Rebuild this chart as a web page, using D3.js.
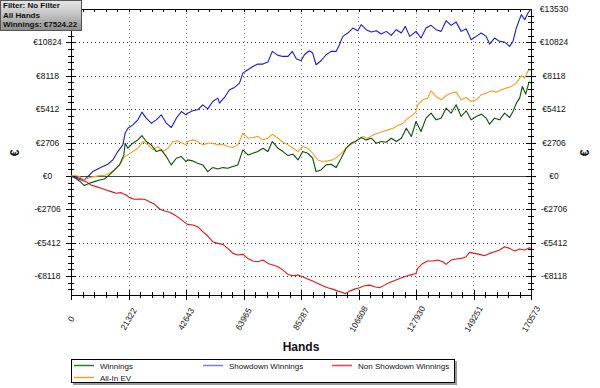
<!DOCTYPE html>
<html><head><meta charset="utf-8">
<script src="https://cdn.jsdelivr.net/npm/d3@7"></script>
<style>body{margin:0;background:#fff}svg{display:block}text{font-family:"Liberation Sans",Arial,sans-serif}</style>
</head><body><svg id="c" width="600" height="388"></svg>
<script>
const xTicks = [0,21322,42643,63965,85287,106608,127930,149251,170573];
const yTicks = [-8118,-5412,-2706,0,2706,5412,8118,10824,13530];
const seriesNames = ["Winnings","All-In EV","Showdown Winnings","Non Showdown Winnings"];
const filterLines = ["Filter: No Filter","All Hands","Winnings: €7524.22"];

const winningsHands = [0,1240,3100,4960,6820,8680,10540,12400,14260,16120,17980,19590,20090,21080,22940,24800,26290,27900,29760,31620,33480,35340,37200,39060,40920,42660,43263,45123,46983,48843,50703,52563,54423,56283,58143,60003,61863,63723,65583,67443,69303,71163,73023,74635,76743,78603,80463,82323,84183,85907,87767,89627,90867,92727,94587,96447,98307,100167,102027,103887,105747,107607,109467,111327,113187,115047,116907,118767,120627,122487,124347,126207,127930,129790,131650,133510,135370,137230,139090,140950,142810,144670,146530,148390,150250,152110,153970,155210,157070,158930,160790,162650,163890,165130,166370,167362,168602,169842,170573];
const winningsValues = [0,-135,-406,-785,-595,-460,-325,-244,81,487,893,1705,2652,2246,2652,2922,3274,2787,2517,1975,2111,1569,893,1434,1569,1164,1299,1218,1028,893,352,677,568,677,622,758,893,2111,1705,1840,1975,2246,1975,2787,2246,1975,1651,1759,1299,1975,1840,1434,352,487,893,947,677,1434,2246,2652,2841,3112,2922,3058,2652,2787,2733,3058,2787,3058,3870,3193,4411,3599,4681,5087,4546,4681,5493,5087,5764,4817,5277,4546,4817,5006,4681,4194,4681,4546,5087,4736,5223,5899,6305,7252,6630,7604,7524];

const allInHands = [0,1240,3100,4960,6820,8680,10540,12400,14260,16120,17980,19840,21080,22940,24800,26660,28520,30380,32240,34100,35960,37820,39680,42660,43263,45123,46983,48843,50703,52563,54423,56283,58143,60003,61863,63723,65583,67443,69303,71163,73023,74635,76743,78603,80463,82323,84183,85907,87767,89627,91487,93347,95207,97067,98927,100787,102647,104507,106367,108227,110087,111947,113807,115667,117527,119387,121247,123107,124967,126827,127930,128550,130410,132270,133510,135370,137230,139090,140950,142810,144670,146530,148390,150250,152110,153970,155830,157690,159550,161410,163270,165130,166990,168230,169470,170573];
const allInValues = [0,81,-54,-325,-135,-54,27,27,216,487,893,1569,1705,1975,2246,2787,2517,2111,2381,1975,2246,2787,2841,2517,2787,2922,2787,2517,2652,2652,2517,2571,2381,2300,2517,3464,3058,3112,3193,2922,3058,3383,3058,2733,2517,2246,1975,2381,2246,1840,1299,1164,1218,1299,1569,1975,2381,2652,2922,3193,3058,3328,3464,3599,3734,3870,4086,4275,4681,4952,5223,5764,6170,6305,6900,6440,6170,6521,6711,6792,6170,6359,6034,6170,6576,6711,6900,6792,6981,7117,7252,7523,8145,7929,8524,8605];

const showdownHands = [0,1240,3100,4960,6200,8060,9920,11780,13640,15500,17360,19220,20090,21080,22940,24800,26290,27900,29760,31620,33480,35340,37200,39060,40920,42660,43263,45123,46983,48843,50703,52563,54423,55043,56903,58763,60623,62483,63723,65583,67443,69303,71163,73023,74635,76743,78603,80463,82075,83563,85299,86527,88387,89627,90867,92727,94587,96447,98307,99547,100787,102647,104507,106367,107607,109467,111327,113187,115047,116907,118767,120627,122487,123975,125587,127943,129790,131650,133510,135370,137230,139090,140950,142810,144670,146530,148390,150250,152110,153970,155210,157070,158930,160790,162650,163890,165130,166990,168230,169470,170573];
const showdownValues = [0,-54,-189,-325,-54,352,568,758,947,1299,1975,2517,3464,3870,4140,4546,5168,4681,4275,4546,4952,4275,3924,4681,5223,4952,5087,5277,5358,5764,5439,6034,6305,5899,6359,6981,7171,7523,8334,8605,8876,9065,9065,9227,10093,9769,9687,9687,10093,9498,9336,9823,10148,9958,9011,9336,9823,10093,10093,10635,11311,11582,11988,11771,12258,11852,11663,11771,11501,11717,11392,11852,11582,12123,11311,11717,11176,11988,12204,11852,11717,12583,12204,12475,11717,11933,11040,11311,11582,11311,10689,11176,10905,10851,10499,10905,11988,13070,12664,13205,13530];

const nonShowdownHands = [0,1860,3720,5580,7440,9300,11160,13020,14880,16740,18600,20460,21700,23560,25420,27280,29140,31000,32860,34720,36580,38440,40300,42660,43263,45123,46983,48843,50703,52563,54423,56283,58143,60003,61863,63723,65583,67443,69303,71163,73023,74883,76743,78603,80463,82323,84183,85907,87767,89627,91487,93347,95207,97067,98927,100787,101655,103267,105127,106987,108847,110707,112567,114427,116287,118147,120007,121867,123727,125587,127943,128550,130410,132270,134130,135990,137850,139090,140950,142810,144670,146530,147770,149630,151490,153350,155210,157070,158930,160790,162650,164510,166370,168230,170090,170573];
const nonShowdownValues = [0,-189,-325,-460,-731,-866,-1001,-1137,-1272,-1407,-1353,-1542,-1759,-1894,-1867,-1894,-2084,-2300,-2679,-2841,-2950,-3166,-3437,-3843,-3924,-3978,-4113,-4519,-4871,-5331,-5466,-5547,-5872,-6278,-6413,-6359,-6684,-6900,-6954,-6819,-7090,-7225,-7360,-7631,-7983,-8091,-8037,-8172,-8362,-8524,-8713,-8903,-9065,-9173,-9336,-9444,-9552,-9336,-9173,-9065,-8903,-8849,-8984,-9065,-8849,-8632,-8470,-8307,-8172,-8037,-7902,-7496,-7090,-6900,-6900,-6819,-6954,-7171,-6819,-6738,-6684,-6549,-6197,-6278,-6359,-6467,-6278,-6143,-6007,-5737,-5872,-6088,-5926,-6007,-5818,-5872];

const colors = {w:"#0b4f0b", ev:"#f2a01e", sd:"#1a1ad8", nsd:"#e01515"};
const legendColors = {w:"#2e7d2e", ev:"#f0a030", sd:"#7a7aff", nsd:"#ff3a3a"};

const svg = d3.select("#c");
svg.append("rect").attr("width",600).attr("height",388).attr("fill","#fff");
const L=71,R=531,T=9,B=295;
const x = d3.scaleLinear().domain([0,170573]).range([L,R]);
const y = d3.scaleLinear().domain([-9650,13530]).range([B,T]);

// grid
const g = svg.append("g");
yTicks.filter(v=>v!==0 && v!==13530).forEach(v=>{
  g.append("line").attr("x1",L).attr("x2",R).attr("y1",Math.round(y(v))+0.5).attr("y2",Math.round(y(v))+0.5)
   .attr("stroke","#333").attr("stroke-dasharray","1,3");
});
xTicks.filter(v=>v!==0 && v!==170573).forEach(v=>{
  g.append("line").attr("y1",T).attr("y2",B).attr("x1",Math.round(x(v))+0.5).attr("x2",Math.round(x(v))+0.5)
   .attr("stroke","#888").attr("stroke-dasharray","1,3");
});
g.append("line").attr("x1",L).attr("x2",R).attr("y1",Math.round(y(0))+0.5).attr("y2",Math.round(y(0))+0.5).attr("stroke","#444");

// frame lines
const fr = svg.append("g").attr("stroke","#000").attr("shape-rendering","crispEdges");
fr.append("line").attr("x1",L).attr("x2",R).attr("y1",T).attr("y2",T);
fr.append("line").attr("x1",L).attr("x2",R).attr("y1",B).attr("y2",B);
fr.append("line").attr("x1",L).attr("x2",L).attr("y1",T).attr("y2",B);
fr.append("line").attr("x1",R).attr("x2",R).attr("y1",T).attr("y2",B);

// y ticks (major + minor), crossing axis lines
const ySub = 5, step = 2706;
for(let v=-8118 - step; v<=13530; v+=step/ySub){
  const vv = Math.round(v);
  if (y(vv) > B || y(vv) < T-0.5) continue;
  const major = yTicks.some(t=>Math.abs(t-vv)<2);
  const len = major?5:3;
  const yy = Math.round(y(vv))+0.5;
  [L,R].forEach(ax=>{
    fr.append("line").attr("x1",ax-len).attr("x2",ax+len).attr("y1",yy).attr("y2",yy);
  });
}
// x ticks
const xStep = 21322, xSub = 5;
for(let i=0;i<=8*xSub;i++){
  const v = i*xStep/xSub;
  const major = i % xSub === 0;
  const xx = Math.round(x(v))+0.5;
  const len = major?5:3;
  fr.append("line").attr("x1",xx).attr("x2",xx).attr("y1",B-len).attr("y2",B+len);
  fr.append("line").attr("x1",xx).attr("x2",xx).attr("y1",T).attr("y2",T+3);
}

// y labels (left top label hidden behind filter box in the reference)
const fmt = v => (v<0?"-€":"€")+Math.abs(v);
yTicks.forEach(v=>{
  if (v !== 13530) svg.append("text").attr("x",47.5).attr("y",y(v)+3).attr("text-anchor","middle").attr("font-size","8.5px").attr("fill","#111").text(fmt(v));
  svg.append("text").attr("x",554).attr("y",y(v)+3).attr("text-anchor","middle").attr("font-size","8.5px").attr("fill","#111").text(fmt(v));
});
// x labels
xTicks.forEach(v=>{
  svg.append("text").attr("transform",`translate(${x(v)},319) rotate(-60)`).attr("text-anchor","middle").attr("dy","0.35em")
   .attr("font-size","8.5px").attr("fill","#111").text(v);
});
// axis titles
svg.append("text").attr("x",301).attr("y",351).attr("text-anchor","middle").attr("font-size","12px").attr("font-weight","bold").attr("fill","#111").text("Hands");
[[15,153],[585,153]].forEach(([a,b])=>{
  svg.append("text").attr("transform",`translate(${a},${b}) rotate(-90)`).attr("text-anchor","middle").attr("dy","0.35em")
   .attr("font-size","12px").attr("font-weight","bold").attr("fill","#111").text("€");
});

// series
const line = d3.line().x(d=>x(d[0])).y(d=>y(d[1]));
const series = [
  [nonShowdownHands,nonShowdownValues,colors.nsd],
  [showdownHands,showdownValues,colors.sd],
  [allInHands,allInValues,colors.ev],
  [winningsHands,winningsValues,colors.w]
];
series.forEach(([h,v,c])=>{
  svg.append("path").datum(d3.zip(h,v)).attr("d",line).attr("fill","none").attr("stroke",c).attr("stroke-width",1.1).attr("stroke-linejoin","round");
});

// legend
const lg = svg.append("g");
lg.append("rect").attr("x",73).attr("y",361).attr("width",384).attr("height",24).attr("fill","#999");
lg.append("rect").attr("x",71.5).attr("y",359.5).attr("width",383).attr("height",23).attr("fill","#fff").attr("stroke","#000");
const legendItems = [
  [seriesNames[0],legendColors.w,74,365.5],
  [seriesNames[2],legendColors.sd,203,365.5],
  [seriesNames[3],legendColors.nsd,332,365.5],
  [seriesNames[1],legendColors.ev,74,377.5]
];
legendItems.forEach(([n,c,lx,ly])=>{
  lg.append("line").attr("x1",lx).attr("x2",lx+20).attr("y1",ly).attr("y2",ly).attr("stroke",c).attr("stroke-width",1.5);
  lg.append("text").attr("x",lx+26).attr("y",ly+3).attr("font-size","8px").attr("fill","#111").text(n);
});

// filter box
const defs = svg.append("defs");
const gr = defs.append("linearGradient").attr("id","fg").attr("x1",0).attr("y1",0).attr("x2",0).attr("y2",1);
gr.append("stop").attr("offset","0").attr("stop-color","#e6e6e6");
gr.append("stop").attr("offset","0.45").attr("stop-color","#c4c4c4");
gr.append("stop").attr("offset","1").attr("stop-color","#8e8e8e");
svg.append("rect").attr("x",0.5).attr("y",0.5).attr("width",81).attr("height",30).attr("fill","url(#fg)").attr("stroke","#555");
filterLines.forEach((t,i)=>{
  svg.append("text").attr("x",3).attr("y",8+i*9.7).attr("font-size","8px").attr("font-weight","bold").attr("fill","#111").text(t);
});
</script></body></html>
